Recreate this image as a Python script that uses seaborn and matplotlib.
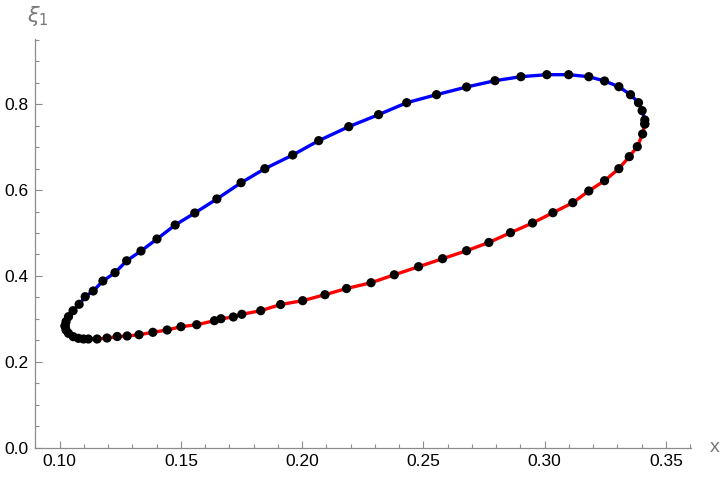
import numpy as np
import pandas as pd
import matplotlib
matplotlib.use("Agg")
import matplotlib.pyplot as plt
import seaborn as sns

# upper branch (blue), from left tip to right tip
blue_x = [0.1022, 0.1026, 0.1036, 0.1055, 0.1080, 0.1105, 0.1138, 0.1178, 0.1228,
          0.1276, 0.1335, 0.1401, 0.1476, 0.1557, 0.1648, 0.1748, 0.1846, 0.1961,
          0.2068, 0.2192, 0.2315, 0.2431, 0.2554, 0.2678, 0.2795, 0.2902, 0.3009,
          0.3099, 0.3182, 0.3247, 0.3306, 0.3354, 0.3387, 0.3402, 0.3413, 0.3413]
blue_y = [0.2832, 0.2932, 0.3049, 0.3189, 0.3338, 0.3515, 0.3648, 0.3881, 0.4075,
          0.4352, 0.4580, 0.4860, 0.5186, 0.5466, 0.5793, 0.6172, 0.6499, 0.6818,
          0.7152, 0.7478, 0.7758, 0.8037, 0.8224, 0.8403, 0.8550, 0.8643, 0.8690,
          0.8690, 0.8643, 0.8543, 0.8410, 0.8224, 0.8037, 0.7851, 0.7634, 0.7541]

# lower branch (red), from right tip back to left tip
red_x = [0.3413, 0.3404, 0.3382, 0.3349, 0.3306, 0.3247, 0.3182, 0.3116, 0.3034,
         0.2950, 0.2859, 0.2770, 0.2678, 0.2579, 0.2480, 0.2380, 0.2284, 0.2183,
         0.2094, 0.2002, 0.1911, 0.1829, 0.1751, 0.1716, 0.1665, 0.1638, 0.1565,
         0.1500, 0.1443, 0.1384, 0.1327, 0.1278, 0.1237, 0.1195, 0.1154, 0.1118,
         0.1098, 0.1077, 0.1056, 0.1036, 0.1026, 0.1022]
red_y = [0.7541, 0.7308, 0.7012, 0.6779, 0.6499, 0.6219, 0.5979, 0.5706, 0.5473,
         0.5233, 0.5007, 0.4779, 0.4587, 0.4401, 0.4214, 0.4026, 0.3841, 0.3706,
         0.3562, 0.3422, 0.3333, 0.3189, 0.3105, 0.3042, 0.3002, 0.2956, 0.2862,
         0.2816, 0.2739, 0.2685, 0.2629, 0.2599, 0.2587, 0.2552, 0.2529, 0.2529,
         0.2529, 0.2545, 0.2583, 0.2662, 0.2739, 0.2832]

x_ticks = [0.10, 0.15, 0.20, 0.25, 0.30, 0.35]
x_tick_labels = ["0.10", "0.15", "0.20", "0.25", "0.30", "0.35"]
y_ticks = [0.0, 0.2, 0.4, 0.6, 0.8]
y_tick_labels = ["0.0", "0.2", "0.4", "0.6", "0.8"]

sns.set_style("white")
plt.rcParams["font.family"] = ["Liberation Sans", "DejaVu Sans"]

df_blue = pd.DataFrame({"x": blue_x, "xi": blue_y})
df_red = pd.DataFrame({"x": red_x, "xi": red_y})
df_pts = pd.concat([df_blue, df_red], ignore_index=True)

fig = plt.figure(figsize=(7.2, 4.8), dpi=100)
ax = fig.add_axes([0.0493, 0.0677, 0.9099, 0.8509])

sns.lineplot(data=df_blue, x="x", y="xi", sort=False, estimator=None,
             color="#0000FF", linewidth=2.4, ax=ax, zorder=2)
sns.lineplot(data=df_red, x="x", y="xi", sort=False, estimator=None,
             color="#FF0000", linewidth=2.4, ax=ax, zorder=2)
sns.scatterplot(data=df_pts, x="x", y="xi", color="black", s=44,
                edgecolor="none", ax=ax, zorder=3)

ax.set_xlim(0.0902, 0.3602)
ax.set_ylim(0.0, 0.952)

gray = "#8c8c8c"
for side in ["top", "right"]:
    ax.spines[side].set_visible(False)
for side in ["left", "bottom"]:
    ax.spines[side].set_color(gray)
    ax.spines[side].set_linewidth(0.9)

ax.set_xticks(x_ticks)
ax.set_xticklabels(x_tick_labels)
ax.set_xticks(np.arange(0.09, 0.3605, 0.01), minor=True)
ax.set_yticks(y_ticks)
ax.set_yticklabels(y_tick_labels)
ax.set_yticks(np.arange(0.0, 0.951, 0.05), minor=True)

ax.tick_params(axis="both", which="both", bottom=True, left=True, top=False, right=False)
ax.tick_params(axis="both", which="major", direction="in", length=5, width=0.8,
               color=gray, labelsize=12.5, labelcolor="black", pad=5)
ax.tick_params(axis="both", which="minor", direction="in", length=3, width=0.8,
               color=gray)

ax.set_xlabel("")
ax.set_ylabel("")
ax.text(0.368, 0.0, "x", color="#777777", fontsize=14, ha="left", va="center",
        transform=ax.transData, clip_on=False)
fig.text(38 / 720, 1 - 16 / 480, r"$\xi_1$", color="#777777", fontsize=15,
         ha="center", va="center")

fig.savefig("out.png", dpi=100)
